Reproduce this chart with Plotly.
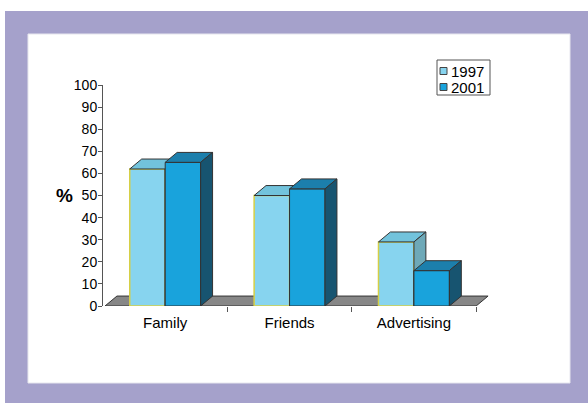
import plotly.graph_objects as go

# ---- data ----
categories = ["Family", "Friends", "Advertising"]
series_names = ["1997", "2001"]
values_1997 = [62, 50, 29]
values_2001 = [65, 53, 16]
y_ticks = [0, 10, 20, 30, 40, 50, 60, 70, 80, 90, 100]

# ---- style ----
FONT = "Liberation Sans, Arial, sans-serif"
FRONT97, TOP97, SIDE97 = "#87d4ef", "#72c3dc", "#6ea9b8"
FRONT01, TOP01, SIDE01 = "#19a3dc", "#1c7fac", "#175470"
EDGE = "#333333"
PURPLE = "#a5a1cb"

BAR_W = 0.285   # bar width in category units
DX = 0.096      # 3D depth offset (x, category units)
DY = 4.5        # 3D depth offset (y, % units)

# pixel layout helpers
L, R, T, B = 103, 87, 85, 97
W, H = 588, 403
PW, PH = W - L - R, H - T - B


def px_x(p):
    return (p - L) / PW


def px_y(p):
    return (H - B - p) / PH


idx = list(range(len(categories)))
fig = go.Figure()

fig.add_bar(x=idx, y=values_1997, width=BAR_W, offset=-BAR_W, name=series_names[0],
            marker=dict(color=FRONT97, line=dict(color="#d6cf45", width=1.5)),
            hoverinfo="skip", showlegend=False)
fig.add_bar(x=idx, y=values_2001, width=BAR_W, offset=0, name=series_names[1],
            marker=dict(color=FRONT01, line=dict(color=EDGE, width=1)),
            hoverinfo="skip", showlegend=False)


def faces(kind):
    xs, ys = [], []
    for i, v1, v2 in zip(idx, values_1997, values_2001):
        x0, x1, x2 = i - BAR_W, i, i + BAR_W
        if kind == "top97":
            pts = [(x0, v1), (x1, v1), (x1 + DX, v1 + DY), (x0 + DX, v1 + DY)]
        elif kind == "side97":
            pts = [(x1, 0), (x1 + DX, DY), (x1 + DX, v1 + DY), (x1, v1)]
        elif kind == "front01":
            pts = [(x1, 0), (x2, 0), (x2, v2), (x1, v2)]
        elif kind == "top01":
            pts = [(x1, v2), (x2, v2), (x2 + DX, v2 + DY), (x1 + DX, v2 + DY)]
        else:  # side01
            pts = [(x2, 0), (x2 + DX, DY), (x2 + DX, v2 + DY), (x2, v2)]
        pts = pts + [pts[0]]
        xs += [p[0] for p in pts] + [None]
        ys += [p[1] for p in pts] + [None]
    return xs, ys


for kind, col in [("top97", TOP97), ("side97", SIDE97), ("front01", FRONT01),
                  ("top01", TOP01), ("side01", SIDE01)]:
    xs, ys = faces(kind)
    fig.add_scatter(x=xs, y=ys, mode="lines", fill="toself", fillcolor=col,
                    line=dict(color=EDGE, width=1), showlegend=False,
                    hoverinfo="skip")

x_lo, x_hi = -0.5, 2.7
x_left = -0.5 + 2 / (PW / (x_hi - x_lo))

shapes = [
    dict(type="rect", xref="paper", yref="paper", x0=px_x(5), x1=px_x(W + 2), y0=px_y(H + 2), y1=px_y(11),
         fillcolor=PURPLE, line=dict(width=0), layer="below"),
    dict(type="rect", xref="paper", yref="paper", x0=px_x(28), x1=px_x(570), y0=px_y(383), y1=px_y(34),
         fillcolor="white", line=dict(color="#e6e6ee", width=1), layer="below"),
    dict(type="path", xref="x", yref="y", layer="below",
         path=f"M {x_left},0 L 2.5,0 L {2.5 + DX},{DY} L {x_left + DX},{DY} Z",
         fillcolor="#878787", line=dict(color=EDGE, width=1)),
]

# manual compact legend (box + swatches + labels)
legend_cols = [FRONT97, FRONT01]
legend_rows_y = [71, 87]
shapes.append(dict(type="rect", xref="paper", yref="paper",
                   x0=px_x(437), x1=px_x(490), y0=px_y(95), y1=px_y(60),
                   fillcolor="white", line=dict(color="#555555", width=1), layer="above"))
annotations = []
for name, col, ry in zip(series_names, legend_cols, legend_rows_y):
    shapes.append(dict(type="rect", xref="paper", yref="paper",
                       x0=px_x(440), x1=px_x(447), y0=px_y(ry + 3.5), y1=px_y(ry - 3.5),
                       fillcolor=col, line=dict(color="#444444", width=1), layer="above"))
    annotations.append(dict(text=name, xref="paper", yref="paper", x=px_x(449), y=px_y(ry),
                            xanchor="left", yanchor="middle", showarrow=False,
                            font=dict(size=15, family=FONT, color="black")))

annotations.append(dict(text="<b>%</b>", xref="paper", yref="y", x=px_x(64), y=50,
                        xanchor="center", yanchor="middle", showarrow=False,
                        font=dict(size=19, family=FONT, color="black")))

fig.update_layout(
    width=W, height=H,
    margin=dict(l=L, r=R, t=T, b=B),
    paper_bgcolor="white", plot_bgcolor="rgba(0,0,0,0)",
    barmode="overlay",
    font=dict(family=FONT, color="black"),
    shapes=shapes,
    showlegend=False,
    xaxis=dict(range=[x_lo, x_hi], tickvals=idx, ticktext=categories, ticks="",
               showline=False, showgrid=False, zeroline=False, ticklabelstandoff=6,
               tickfont=dict(size=15, family=FONT, color="black")),
    xaxis2=dict(range=[x_lo, x_hi], overlaying="x", anchor="y", side="bottom",
                tickvals=[0.5, 1.5, 2.5], ticks="outside", ticklen=5, tickcolor="#555555",
                showticklabels=False, showline=False, showgrid=False, zeroline=False),
    yaxis=dict(range=[0, 100], tickvals=y_ticks, ticks="outside", ticklen=4,
               tickcolor="#555555", showline=True, linecolor="#555555", linewidth=1,
               showgrid=False, zeroline=False, ticklabelstandoff=-2,
               tickfont=dict(size=14, family=FONT, color="black")),
    annotations=annotations,
)

# dummy trace to activate xaxis2 ticks
fig.add_scatter(x=[None], y=[None], xaxis="x2", showlegend=False, hoverinfo="skip")

fig.write_html("out.html", config={"displayModeBar": False},
               post_script="document.body.style.margin='0';")
